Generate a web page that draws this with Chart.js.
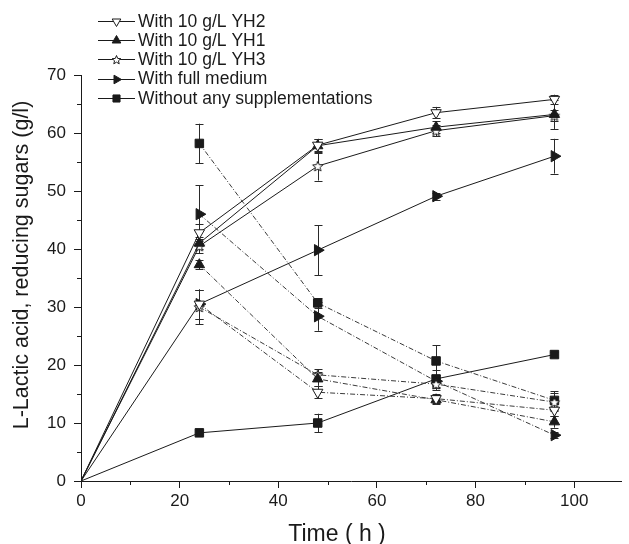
<!DOCTYPE html>
<html>
<head>
<meta charset="utf-8">
<script src="https://cdn.jsdelivr.net/npm/chart.js@4.4.0/dist/chart.umd.min.js"></script>
<style>
  html, body { margin: 0; padding: 0; background: #fff; }
  #wrap { width: 629px; height: 544px; }
</style>
</head>
<body>
<div id="wrap"><canvas id="chart"></canvas></div>
<script>
// sampling times (h)
const hours = [0, 24, 48, 72, 96];
const sugarHours = [24, 48, 72, 96];
const xTicks = [0, 10, 20, 30, 40, 50, 60, 70, 80, 90, 100];
const yTicks = [0, 5, 10, 15, 20, 25, 30, 35, 40, 45, 50, 55, 60, 65, 70];

const names = ['With 10 g/L YH2', 'With 10 g/L YH1', 'With 10 g/L YH3', 'With full medium', 'Without any supplementations'];
const xTitle = 'Time ( h )';
const yTitle = 'L-Lactic acid, reducing sugars (g/l)';

// L-lactic acid (g/l), solid lines
const lacticYH2 = [0, 42.8, 57.9, 63.5, 65.8];
const lacticYH1 = [0, 41.0, 57.8, 61.0, 63.2];
const lacticYH3 = [0, 40.5, 54.3, 60.4, 63.0];
const lacticFull = [0, 30.5, 39.8, 49.1, 56.0];
const lacticNone = [0, 8.3, 10.0, 17.6, 21.8];

const lacticErrYH2 = [0, 1.5, 1.0, 1.0, 0.8];
const lacticErrYH1 = [0, 1.0, 1.2, 1.0, 2.5];
const lacticErrYH3 = [0, 1.2, 2.5, 1.0, 1.0];
const lacticErrFull = [0, 2.5, 4.3, 0.6, 3.0];
const lacticErrNone = [0, 0.5, 1.6, 1.5, 0.5];

// reducing sugars (g/l), dash-dot lines
const sugarYH2 = [30.5, 15.3, 14.2, 12.2];
const sugarYH1 = [37.3, 17.6, 14.0, 10.2];
const sugarYH3 = [30.0, 18.3, 16.7, 13.6];
const sugarFull = [46.0, 28.4, 17.2, 7.9];
const sugarNone = [58.2, 30.7, 20.7, 13.9];

const sugarErrYH2 = [2.5, 1.0, 0.8, 1.0];
const sugarErrYH1 = [0.8, 1.2, 0.8, 1.0];
const sugarErrYH3 = [3.0, 1.0, 1.0, 1.5];
const sugarErrFull = [5.0, 2.5, 1.0, 0.5];
const sugarErrNone = [3.4, 0.8, 2.7, 1.6];

const FONT = "'Liberation Sans', Arial, Helvetica, sans-serif";
const INK = '#1a1a1a';

function makeStar(r, fill) {
  const s = Math.ceil(r * 2 + 3);
  const c = document.createElement('canvas');
  c.width = s; c.height = s;
  const g = c.getContext('2d');
  g.beginPath();
  for (let i = 0; i < 10; i++) {
    const rr = i % 2 ? r * 0.45 : r;
    const a = -Math.PI / 2 + i * Math.PI / 5;
    g.lineTo(s / 2 + rr * Math.cos(a), s / 2 + 0.6 + rr * Math.sin(a));
  }
  g.closePath();
  g.fillStyle = fill;
  g.fill();
  g.strokeStyle = INK;
  g.lineWidth = 1;
  g.stroke();
  return c;
}

const starBig = makeStar(5.4, '#fff');
const starSmall = makeStar(4.6, '#fff');

// marker style per condition
const markers = [
  { pointStyle: 'triangle', rotation: 180, fill: '#fff', radius: 6, legendStyle: 'triangle', legendRadius: 5 },
  { pointStyle: 'triangle', rotation: 0, fill: INK, radius: 6, legendStyle: 'triangle', legendRadius: 5 },
  { pointStyle: starBig, rotation: 0, fill: '#fff', radius: 5, legendStyle: starSmall, legendRadius: 5 },
  { pointStyle: 'triangle', rotation: 90, fill: INK, radius: 6.5, legendStyle: 'triangle', legendRadius: 5 },
  { pointStyle: 'rect', rotation: 0, fill: INK, radius: 6, legendStyle: 'rect', legendRadius: 5 }
];

const lacticSeries = [lacticYH2, lacticYH1, lacticYH3, lacticFull, lacticNone];
const lacticErrs = [lacticErrYH2, lacticErrYH1, lacticErrYH3, lacticErrFull, lacticErrNone];
const sugarSeries = [sugarYH2, sugarYH1, sugarYH3, sugarFull, sugarNone];
const sugarErrs = [sugarErrYH2, sugarErrYH1, sugarErrYH3, sugarErrFull, sugarErrNone];

function makeDataset(label, xs, ys, errs, m, dashed) {
  return {
    label: label,
    data: xs.map((x, i) => ({ x: x, y: ys[i] })),
    errors: errs,
    borderColor: dashed ? '#3a3a3a' : INK,
    borderWidth: 1,
    borderDash: dashed ? [5, 2, 1, 2] : [],
    pointStyle: m.pointStyle,
    rotation: m.rotation,
    pointRadius: xs.map(x => x === 0 ? 0 : m.radius),
    pointBackgroundColor: m.fill,
    pointBorderColor: INK,
    pointBorderWidth: 1,
    pointHoverRadius: m.radius,
    tension: 0,
    fill: false
  };
}

const datasets = [];
sugarSeries.forEach((s, i) => datasets.push(makeDataset(names[i] + ' (sugars)', sugarHours, s, sugarErrs[i], markers[i], true)));
lacticSeries.forEach((s, i) => datasets.push(makeDataset(names[i], hours, s, lacticErrs[i], markers[i], false)));

// vertical error bars with caps
const errorBars = {
  id: 'errorBars',
  beforeDatasetsDraw(chart) {
    const { ctx, scales: { x, y } } = chart;
    ctx.save();
    ctx.strokeStyle = '#2a2a2a';
    ctx.lineWidth = 1;
    chart.data.datasets.forEach(ds => {
      ds.data.forEach((p, j) => {
        const e = ds.errors[j];
        if (!e) return;
        const px = Math.round(x.getPixelForValue(p.x)) + 0.5;
        const top = y.getPixelForValue(p.y + e);
        const bot = y.getPixelForValue(p.y - e);
        ctx.beginPath();
        ctx.moveTo(px, top); ctx.lineTo(px, bot);
        ctx.moveTo(px - 4, Math.round(top) + 0.5); ctx.lineTo(px + 4, Math.round(top) + 0.5);
        ctx.moveTo(px - 4, Math.round(bot) + 0.5); ctx.lineTo(px + 4, Math.round(bot) + 0.5);
        ctx.stroke();
      });
    });
    ctx.restore();
  }
};

// short minor ticks (unlabelled ones), major ticks come from the scale itself
const minorTicks = {
  id: 'minorTicks',
  afterDraw(chart) {
    const { ctx, scales: { x, y } } = chart;
    ctx.save();
    ctx.strokeStyle = INK;
    ctx.lineWidth = 1;
    ctx.beginPath();
    xTicks.filter(v => v % 20 !== 0).forEach(v => {
      const px = Math.round(x.getPixelForValue(v)) + 0.5;
      ctx.moveTo(px, x.top); ctx.lineTo(px, x.top + 4);
    });
    yTicks.filter(v => v % 10 !== 0).forEach(v => {
      const py = Math.round(y.getPixelForValue(v)) + 0.5;
      ctx.moveTo(y.right, py); ctx.lineTo(y.right - 4, py);
    });
    ctx.stroke();
    ctx.restore();
  }
};

// axis titles (x title sits under the 0-100 span, y title a bit above centre)
const axisTitles = {
  id: 'axisTitles',
  afterDraw(chart) {
    const ctx = chart.ctx;
    ctx.save();
    ctx.fillStyle = INK;
    ctx.textAlign = 'center';
    ctx.textBaseline = 'alphabetic';
    ctx.font = '23px ' + FONT;
    ctx.fillText(xTitle, 337, 541);
    ctx.font = '21.5px ' + FONT;
    ctx.translate(28, 265);
    ctx.rotate(-Math.PI / 2);
    ctx.fillText(yTitle, 0, 0);
    ctx.restore();
  }
};

// legend in the style of the original: line - marker - line, then text
const markLegend = {
  id: 'markLegend',
  afterDraw(chart) {
    const ctx = chart.ctx;
    const x0 = 98, x1 = 135, xm = 116.5, xt = 138;
    const rows = [20.7, 40, 59.3, 78.6, 97.9];
    ctx.save();
    names.forEach((name, i) => {
      const y = rows[i];
      const m = markers[i];
      ctx.strokeStyle = INK;
      ctx.lineWidth = 1;
      ctx.setLineDash([]);
      ctx.beginPath();
      ctx.moveTo(x0, Math.round(y) + 0.5);
      ctx.lineTo(x1, Math.round(y) + 0.5);
      ctx.stroke();
      ctx.fillStyle = m.fill;
      ctx.strokeStyle = INK;
      Chart.helpers.drawPoint(ctx, {
        pointStyle: m.legendStyle,
        rotation: m.rotation,
        radius: m.legendRadius,
        borderWidth: 1
      }, xm, Math.round(y) + 0.5);
      ctx.fillStyle = INK;
      ctx.font = '17.5px ' + FONT;
      ctx.textAlign = 'left';
      ctx.textBaseline = 'middle';
      ctx.fillText(name, xt, y + 1);
    });
    ctx.restore();
  }
};

new Chart(document.getElementById('chart'), {
  type: 'line',
  data: { datasets: datasets },
  options: {
    responsive: true,
    maintainAspectRatio: false,
    animation: false,
    layout: { padding: { top: 75, right: 0, left: 0, bottom: 0 } },
    plugins: {
      legend: { display: false },
      tooltip: { enabled: false }
    },
    scales: {
      x: {
        type: 'linear',
        min: 0,
        max: 109.6,
        afterBuildTicks: s => { s.ticks = xTicks.map(v => ({ value: v })); },
        afterFit: s => { s.height = 63; },
        ticks: {
          autoSkip: false,
          maxRotation: 0,
          padding: 3,
          color: INK,
          font: { family: FONT, size: 17 },
          callback: v => (v % 20 === 0 ? v : '')
        },
        grid: {
          drawOnChartArea: false,
          tickLength: 7,
          color: INK,
          tickColor: c => (c.tick && c.tick.value % 20 === 0 ? INK : 'rgba(0,0,0,0)')
        },
        border: { color: INK, width: 1 }
      },
      y: {
        min: 0,
        max: 70,
        afterBuildTicks: s => { s.ticks = yTicks.map(v => ({ value: v })); },
        afterFit: s => { s.width = 81; },
        ticks: {
          autoSkip: false,
          padding: 8,
          color: INK,
          font: { family: FONT, size: 17 },
          callback: v => (v % 10 === 0 ? v : '')
        },
        grid: {
          drawOnChartArea: false,
          tickLength: 7,
          color: INK,
          tickColor: c => (c.tick && c.tick.value % 10 === 0 ? INK : 'rgba(0,0,0,0)')
        },
        border: { color: INK, width: 1 }
      }
    }
  },
  plugins: [errorBars, minorTicks, axisTitles, markLegend]
});
</script>
</body>
</html>
